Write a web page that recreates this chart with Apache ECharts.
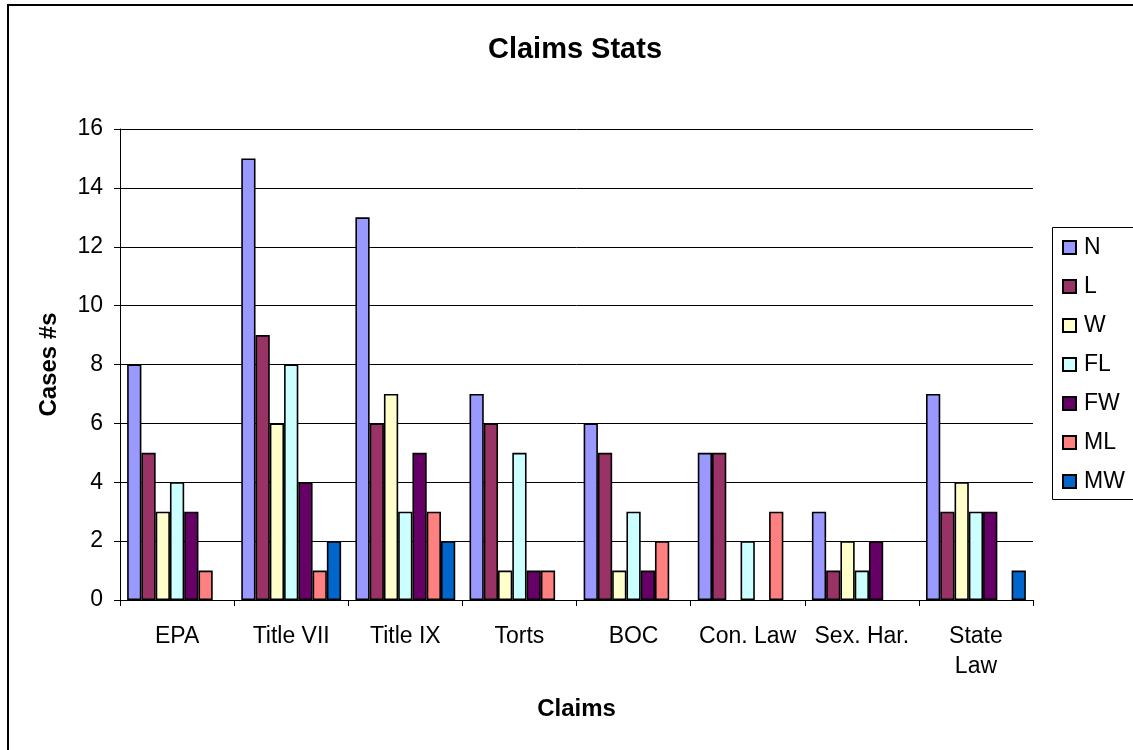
<!DOCTYPE html>
<html>
<head>
<meta charset="utf-8">
<script src="https://cdn.jsdelivr.net/npm/echarts@6/dist/echarts.min.js"></script>
<style>
  html, body { margin: 0; padding: 0; background: #fff; }
  #chart { width: 1133px; height: 750px; }
</style>
</head>
<body>
<div id="chart"></div>
<script>
// Claim categories along the x axis
const categories = ['EPA', 'Title VII', 'Title IX', 'Torts', 'BOC', 'Con. Law', 'Sex. Har.', 'State Law'];
// Tick labels shown under each category (State Law wraps onto two lines)
const tickLabels = ['EPA', 'Title VII', 'Title IX', 'Torts', 'BOC', 'Con. Law', 'Sex. Har.', 'State\nLaw'];

// Case counts per outcome
const N  = [8, 15, 13, 7, 6, 5, 3, 7];
const L  = [5, 9, 6, 6, 5, 5, 1, 3];
const W  = [3, 6, 7, 1, 1, 0, 2, 4];
const FL = [4, 8, 3, 5, 3, 2, 1, 3];
const FW = [3, 4, 5, 1, 1, 0, 2, 3];
const ML = [1, 1, 3, 1, 2, 3, 0, 0];
const MW = [0, 2, 2, 0, 0, 0, 0, 1];

const yTicks = [0, 2, 4, 6, 8, 10, 12, 14, 16];

const seriesDefs = [
  { name: 'N',  data: N,  color: '#9999FF' },
  { name: 'L',  data: L,  color: '#993366' },
  { name: 'W',  data: W,  color: '#FFFFCC' },
  { name: 'FL', data: FL, color: '#CCFFFF' },
  { name: 'FW', data: FW, color: '#660066' },
  { name: 'ML', data: ML, color: '#FF8080' },
  { name: 'MW', data: MW, color: '#0066CC' }
];

const font = '"Liberation Sans", Arial, sans-serif';
const chart = echarts.init(document.getElementById('chart'), null, { renderer: 'canvas' });

chart.setOption({
  backgroundColor: '#ffffff',
  animation: false,
  textStyle: { fontFamily: font, color: '#000' },
  title: {
    text: 'Claims Stats',
    left: 570,
    textAlign: 'center',
    top: 30,
    textStyle: { fontFamily: font, fontSize: 29, fontWeight: 'bold', color: '#000' }
  },
  graphic: [
    // outer chart frame
    { type: 'rect', shape: { x: 8, y: 5, width: 1200, height: 800 },
      style: { fill: null, stroke: '#000', lineWidth: 2 }, silent: true, z: -1 },
    // legend box
    { type: 'rect', shape: { x: 1052.5, y: 227.5, width: 100, height: 272 },
      style: { fill: '#fff', stroke: '#000', lineWidth: 1 }, silent: true, z: 0 }
  ],
  legend: {
    orient: 'vertical',
    left: 1062,
    top: 236,
    padding: 0,
    icon: 'rect',
    itemWidth: 13,
    itemHeight: 13,
    itemGap: 16,
    z: 5,
    textStyle: { fontFamily: font, fontSize: 23, color: '#000', padding: [0, 0, 0, 3] },
    data: seriesDefs.map(s => s.name)
  },
  grid: { left: 120, right: 100, top: 129, bottom: 150, containLabel: false },
  xAxis: {
    type: 'category',
    data: categories,
    name: 'Claims',
    nameLocation: 'middle',
    nameGap: 97,
    nameTextStyle: { fontFamily: font, fontSize: 24, fontWeight: 'bold', color: '#000' },
    axisLine: { lineStyle: { color: '#000', width: 1 } },
    axisTick: { show: true, length: 6, lineStyle: { color: '#000' } },
    axisLabel: {
      fontFamily: font, fontSize: 23, color: '#000', margin: 22, lineHeight: 30,
      interval: 0,
      formatter: (v, i) => tickLabels[i]
    },
    splitLine: { show: false }
  },
  yAxis: {
    type: 'value',
    min: yTicks[0],
    max: yTicks[yTicks.length - 1],
    interval: 2,
    name: 'Cases #s',
    nameLocation: 'middle',
    nameGap: 59,
    nameRotate: 90,
    nameTextStyle: { fontFamily: font, fontSize: 24, fontWeight: 'bold', color: '#000' },
    axisLine: { show: true, lineStyle: { color: '#000', width: 1 } },
    axisTick: { show: true, length: 6, lineStyle: { color: '#000' } },
    axisLabel: { fontFamily: font, fontSize: 23, color: '#000', margin: 17 },
    splitLine: { show: true, lineStyle: { color: '#000', width: 1 } }
  },
  series: seriesDefs.map(s => ({
    name: s.name,
    type: 'bar',
    // zero counts leave an empty slot rather than a flat outlined bar
    data: s.data.map(v => (v === 0 ? null : v)),
    barGap: '0%',
    barCategoryGap: '12.5%',
    itemStyle: { color: s.color, borderColor: '#000', borderWidth: 1.6 }
  }))
});
</script>
</body>
</html>
